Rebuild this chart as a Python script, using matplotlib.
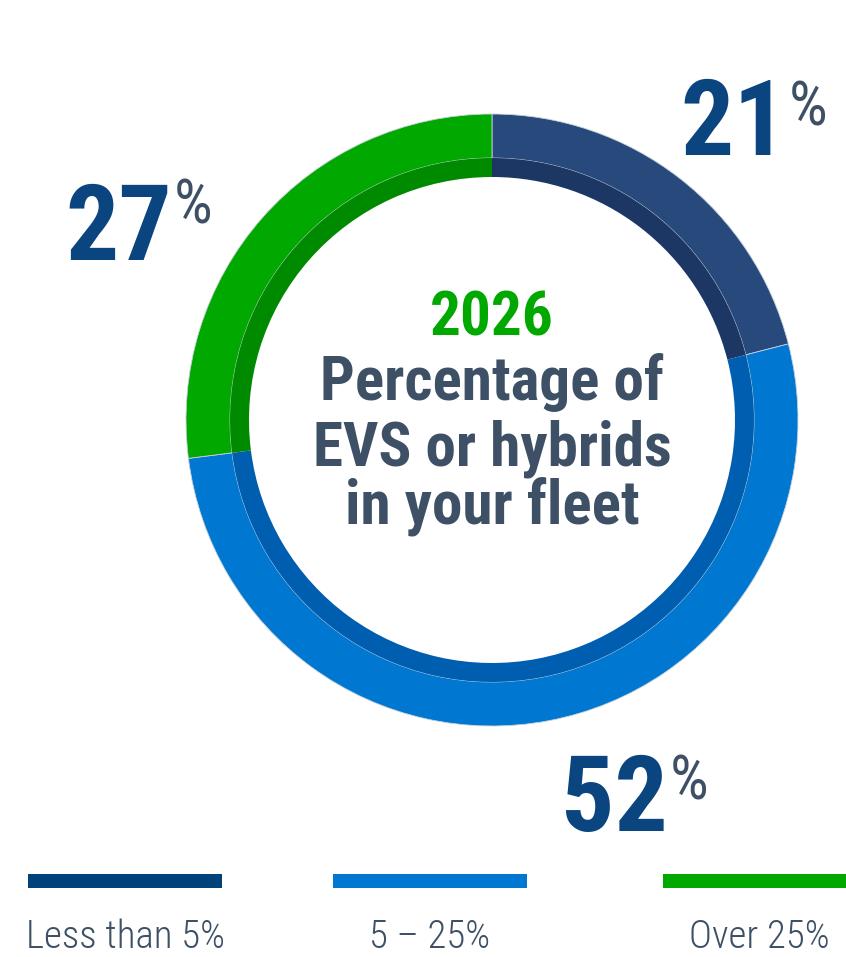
import matplotlib.pyplot as plt
from matplotlib import font_manager

categories = ["Less than 5%", "5 – 25%", "Over 25%"]
shares = [21, 52, 27]
ring_colors = ["#27497c", "#0077d0", "#00a800"]
inner_colors = ["#1d3764", "#005eb0", "#008a00"]
legend_colors = ["#00427a", "#0077d0", "#00a800"]

names = {f.name for f in font_manager.fontManager.ttflist}
cond = [n for n in ["Roboto Condensed", "Liberation Sans Narrow"] if n in names] + ["Roboto", "DejaVu Sans"]

W, H = 846, 957
fig = plt.figure(figsize=(W / 100, H / 100), dpi=100)
ax = fig.add_axes([0, 0, 1, 1])

cx, cy = 492, H - 420
ax.pie(shares, colors=ring_colors, startangle=90, counterclock=False, center=(cx, cy),
       radius=306, wedgeprops=dict(width=44, linewidth=0.6, edgecolor="#c8d0dc"), frame=True)
ax.pie(shares, colors=inner_colors, startangle=90, counterclock=False, center=(cx, cy),
       radius=262, wedgeprops=dict(width=19, linewidth=0), frame=True)
ax.set_xlim(0, W)
ax.set_ylim(0, H)
ax.set_aspect("equal")
ax.axis("off")

navy = "#0a4580"
grey = "#3d5066"
big = dict(family=cond, fontsize=76, fontweight="bold", color=navy, va="baseline", ha="right")
sup = dict(family=cond, fontsize=44, color=grey, va="top", ha="left")
# (number anchor x, baseline y, percent x, percent top y) in pixel coords from top
label_pos = [(787, 155, 789, 79), (668, 831, 670, 754), (172, 260, 174, 178)]
for (nx, ny, px, py), v in zip(label_pos, shares):
    ax.text(nx, H - ny, str(v), **big)
    ax.text(px, H - py, "%", **sup)

ax.text(cx, H - 335, "2026", family=cond, fontsize=44, fontweight="bold", color="#00a800",
        ha="center", va="baseline")
for txt, y in zip(["Percentage of", "EVS or hybrids", "in your fleet"], [400, 465, 524]):
    ax.text(cx, H - y, txt, family=cond, fontsize=44, fontweight="bold", color=grey,
            ha="center", va="baseline")

bar_x = [(28, 222), (333, 527), (663, 846)]
text_x = [125, 430, 759]
for (x0, x1), c, lab, tx in zip(bar_x, legend_colors, categories, text_x):
    ax.fill_between([x0, x1], H - 888, H - 874, color=c, linewidth=0)
    ax.text(tx, H - 948, lab, family=cond, fontsize=28, fontweight="light", color=grey,
            ha="center", va="baseline")

fig.savefig("out.png", dpi=100)
